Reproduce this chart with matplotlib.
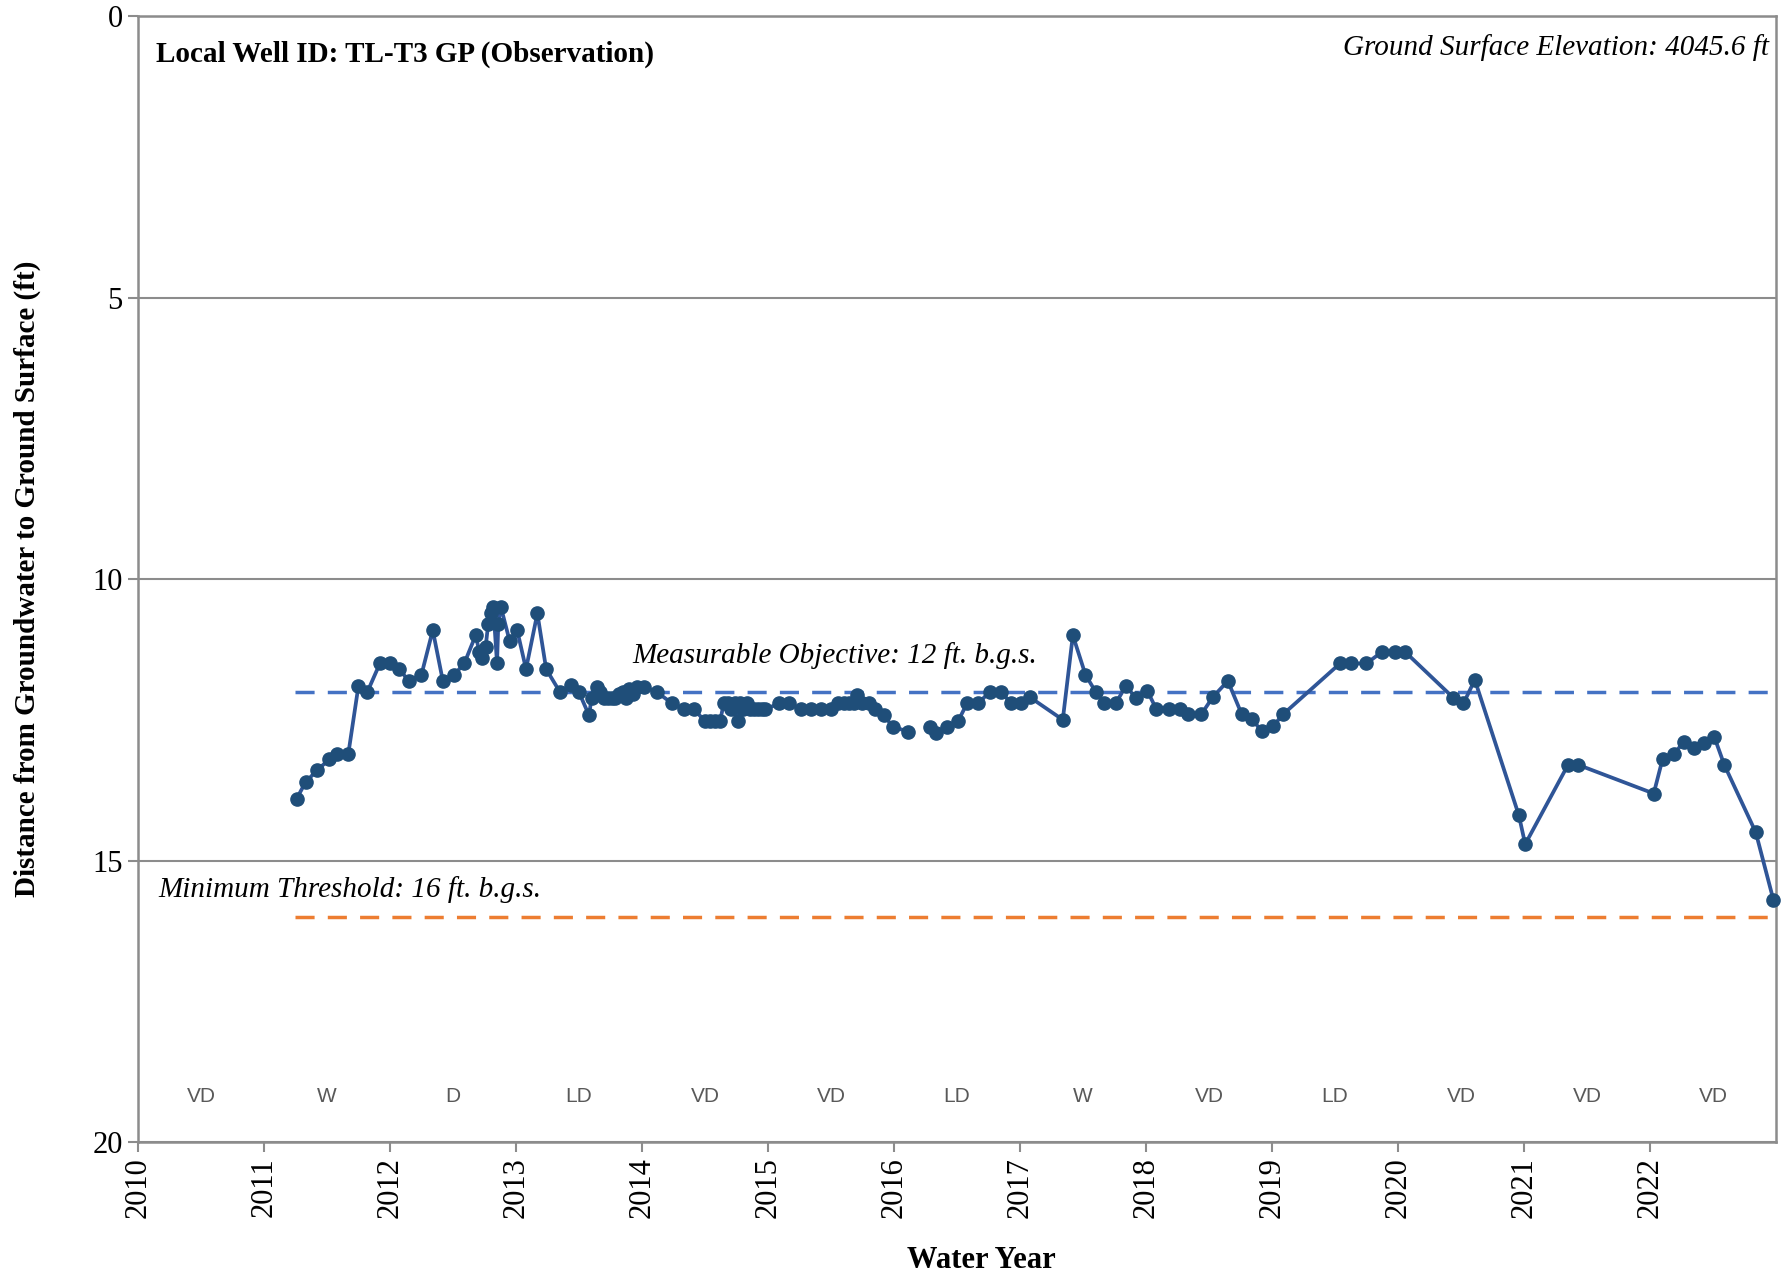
import numpy as np
import matplotlib
matplotlib.use("Agg")
import matplotlib.pyplot as plt

# ---- data ----
dates = [
    2011.26, 2011.33, 2011.42, 2011.52, 2011.58, 2011.67, 2011.75, 2011.82, 2011.92, 2012.00,
    2012.07, 2012.15, 2012.25, 2012.34, 2012.42, 2012.51, 2012.59, 2012.68, 2012.71, 2012.73,
    2012.76, 2012.78, 2012.80, 2012.82, 2012.85, 2012.86, 2012.88, 2012.95, 2013.01, 2013.08,
    2013.17, 2013.24, 2013.35, 2013.44, 2013.50, 2013.58, 2013.60, 2013.64, 2013.67, 2013.70,
    2013.73, 2013.76, 2013.79, 2013.82, 2013.85, 2013.87, 2013.90, 2013.93, 2013.96, 2014.02,
    2014.12, 2014.24, 2014.33, 2014.41, 2014.50, 2014.54, 2014.58, 2014.62, 2014.65, 2014.68,
    2014.71, 2014.74, 2014.76, 2014.78, 2014.80, 2014.83, 2014.86, 2014.89, 2014.92, 2014.95,
    2014.98, 2015.09, 2015.17, 2015.26, 2015.34, 2015.42, 2015.50, 2015.56, 2015.60, 2015.64,
    2015.68, 2015.71, 2015.75, 2015.80, 2015.85, 2015.92, 2015.99, 2016.11, 2016.20, 2016.29,
    2016.33, 2016.42, 2016.51, 2016.58, 2016.67, 2016.76, 2016.85, 2016.93, 2017.01, 2017.08,
    2017.34, 2017.42, 2017.52, 2017.60, 2017.67, 2017.76, 2017.84, 2017.92, 2018.01, 2018.08,
    2018.18, 2018.27, 2018.33, 2018.44, 2018.53, 2018.65, 2018.76, 2018.84, 2018.92, 2019.01,
    2019.09, 2019.54, 2019.63, 2019.75, 2019.87, 2019.98, 2020.06, 2020.44, 2020.52, 2020.61,
    2020.96, 2021.01, 2021.35, 2021.43, 2022.03, 2022.10, 2022.19, 2022.27, 2022.35, 2022.43,
    2022.51, 2022.59, 2022.84, 2022.98,
]
depth_ft = [
    13.90, 13.61, 13.40, 13.20, 13.10, 13.10, 11.90, 12.01, 11.50, 11.50,
    11.59, 11.81, 11.70, 10.91, 11.81, 11.70, 11.50, 11.00, 11.29, 11.40,
    11.20, 10.79, 10.61, 10.49, 11.50, 10.79, 10.49, 11.10, 10.91, 11.60,
    10.61, 11.60, 12.01, 11.89, 12.01, 12.42, 12.12, 11.91, 12.01, 12.12,
    12.12, 12.12, 12.12, 12.05, 12.00, 12.12, 11.95, 12.05, 11.92, 11.92,
    12.01, 12.21, 12.31, 12.31, 12.52, 12.52, 12.52, 12.52, 12.21, 12.21,
    12.31, 12.21, 12.52, 12.21, 12.31, 12.21, 12.31, 12.31, 12.31, 12.31,
    12.31, 12.21, 12.21, 12.31, 12.31, 12.31, 12.31, 12.21, 12.21, 12.21,
    12.21, 12.06, 12.21, 12.21, 12.31, 12.42, 12.62, 12.71, np.nan, 12.62,
    12.73, 12.62, 12.52, 12.21, 12.21, 12.00, 12.00, 12.21, 12.21, 12.10,
    12.50, 11.00, 11.70, 12.00, 12.21, 12.21, 11.90, 12.11, 11.98, 12.30,
    12.30, 12.30, 12.40, 12.40, 12.10, 11.81, 12.40, 12.49, 12.70, 12.61,
    12.40, 11.50, 11.50, 11.50, 11.30, 11.30, 11.30, 12.11, 12.21, 11.79,
    14.20, 14.71, 13.30, 13.30, 13.81, 13.20, 13.11, 12.89, 13.01, 12.91,
    12.80, 13.30, 14.50, 15.70,
]
measurable_objective = 12
minimum_threshold = 16
threshold_start = 2011.25
year_ticks = list(range(2010, 2024))
wy_types = ["VD", "W", "D", "LD", "VD", "VD", "LD", "W", "VD", "LD", "VD", "VD", "VD"]
wy_years = list(range(2010, 2023))

well_label = "Local Well ID: TL-T3 GP (Observation)"
gse_label = "Ground Surface Elevation: 4045.6 ft"

# ---- plot ----
serif = ["Liberation Serif", "DejaVu Serif"]
plt.rcParams["font.family"] = serif

fig = plt.figure(figsize=(17.89, 12.74), dpi=100)
ax = fig.add_axes([0.0771, 0.1036, 0.9156, 0.8838])

grid_c = "#8c8c8c"
ax.set_xlim(2010, 2023)
ax.set_ylim(20, 0)
ax.set_yticks([0, 5, 10, 15, 20])
ax.set_xticks(year_ticks[:-1])
ax.tick_params(axis="x", labelsize=22, labelrotation=90, length=7, width=1.5, color=grid_c, pad=4)
ax.tick_params(axis="y", labelsize=22, length=7, width=1.5, color=grid_c, pad=4)
for s in ax.spines.values():
    s.set_color(grid_c)
    s.set_linewidth(1.8)
ax.yaxis.grid(True, color=grid_c, linewidth=1.5)
ax.set_axisbelow(True)

# thresholds
ax.plot([threshold_start, 2023], [measurable_objective] * 2, color="#4472C4",
        lw=2.5, dashes=(5.5, 3.8), zorder=2)
ax.plot([threshold_start, 2023], [minimum_threshold] * 2, color="#ED7D31",
        lw=2.5, dashes=(5.5, 3.8), zorder=2)

# data
ax.plot(dates, depth_ft, color="#2F5597", lw=2.7, marker="o", markersize=9.5,
        markerfacecolor="#1F4E79", markeredgecolor="#1F4E79", zorder=3, clip_on=False)

ax.text(2015.53, 11.6, f"Measurable Objective: {measurable_objective} ft. b.g.s.",
        fontsize=21, style="italic", ha="center", va="bottom")
ax.text(2011.68, 15.75, f"Minimum Threshold: {minimum_threshold} ft. b.g.s.",
        fontsize=21, style="italic", ha="center", va="bottom")

for yr, t in zip(wy_years, wy_types):
    ax.text(yr + 0.5, 19.2, t, fontsize=15, color="#595959", ha="center", va="center",
            family=["Liberation Sans Narrow", "Liberation Sans", "DejaVu Sans"])

ax.text(0.011, 0.978, well_label, transform=ax.transAxes, fontsize=21,
        fontweight="bold", ha="left", va="top")
ax.text(0.996, 0.984, gse_label, transform=ax.transAxes, fontsize=21,
        style="italic", ha="right", va="top")

ax.set_xlabel("Water Year", fontsize=22, fontweight="bold")
ax.xaxis.set_label_coords(0.515, -0.092)
ax.set_ylabel("Distance from Groundwater to Ground Surface (ft)", fontsize=21,
              fontweight="bold")
ax.yaxis.set_label_coords(-0.059, 0.5)

fig.savefig("out.png", dpi=100)
